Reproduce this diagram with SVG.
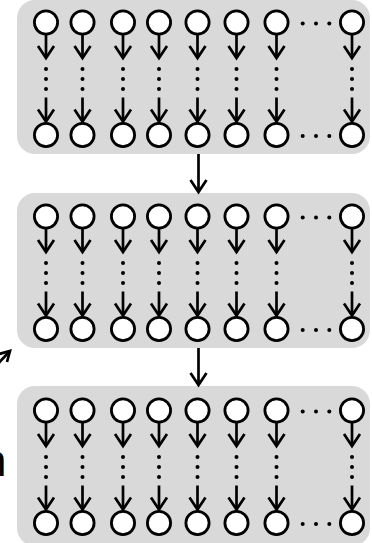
<svg xmlns="http://www.w3.org/2000/svg" xmlns:xlink="http://www.w3.org/1999/xlink" width="372" height="543" viewBox="0 0 372 543">
  <style>
    .panel { fill: #d9d9d9; stroke: none; }
    .node { fill: #ffffff; stroke: #000000; stroke-width: 2.8; }
    .edge { fill: none; stroke: #000000; stroke-width: 2.7; stroke-linecap: butt; stroke-linejoin: miter; }
    .dot { fill: #000000; }
    .label { font-family: "Liberation Sans", Arial, sans-serif; font-size: 44px; fill: #000000; }
  </style>
  <defs>
    <!-- one chain: first node, arrow, vertical ellipsis, arrow, last node -->
    <g id="chain">
      <circle class="node" cx="0" cy="22.5" r="11.6"/>
      <line class="edge" x1="0" y1="34" x2="0" y2="57"/>
      <polyline class="edge" points="-8,46 0,58 8,46"/>
      <circle class="dot" cx="0" cy="69" r="2"/>
      <circle class="dot" cx="0" cy="79" r="2"/>
      <circle class="dot" cx="0" cy="89" r="2"/>
      <line class="edge" x1="0" y1="97.5" x2="0" y2="120.5"/>
      <polyline class="edge" points="-8,109.5 0,121.5 8,109.5"/>
      <circle class="node" cx="0" cy="135" r="11.6"/>
    </g>
    <!-- horizontal ellipsis between the last two chains -->
    <g id="hdots">
      <circle class="dot" cx="302.7" cy="0" r="2"/>
      <circle class="dot" cx="316" cy="0" r="2"/>
      <circle class="dot" cx="329.3" cy="0" r="2"/>
    </g>
    <!-- a block of eight chains -->
    <g id="block">
      <use xlink:href="#chain" x="46"/>
      <use xlink:href="#chain" x="82.5"/>
      <use xlink:href="#chain" x="123"/>
      <use xlink:href="#chain" x="159"/>
      <use xlink:href="#chain" x="197.5"/>
      <use xlink:href="#chain" x="236.5"/>
      <use xlink:href="#chain" x="276.5"/>
      <use xlink:href="#chain" x="352"/>
      <use xlink:href="#hdots" y="23.5"/>
      <use xlink:href="#hdots" y="136"/>
    </g>
  </defs>

  <g id="block-1">
    <rect class="panel" x="17" y="0" width="353" height="154" rx="18" ry="18"/>
    <use xlink:href="#block" y="0"/>
  </g>

  <g id="block-2">
    <rect class="panel" x="17" y="193" width="353" height="155" rx="18" ry="18"/>
    <use xlink:href="#block" y="194"/>
  </g>

  <g id="block-3">
    <rect class="panel" x="17" y="386" width="353" height="160" rx="18" ry="18"/>
    <use xlink:href="#block" y="388"/>
  </g>

  <g id="connectors">
    <line class="edge" x1="198.5" y1="154" x2="198.5" y2="191"/>
    <polyline class="edge" points="190.5,180 198.5,192 206.5,180"/>
    <line class="edge" x1="198.5" y1="348" x2="198.5" y2="384"/>
    <polyline class="edge" points="190.5,373 198.5,385 206.5,373"/>
    <!-- incoming arrow from the left edge -->
    <line class="edge" x1="-8" y1="370" x2="10" y2="351"/>
    <polyline class="edge" points="-1,354 10,351 7,362"/>
  </g>

  <g id="side-label">
    <text class="label" x="-18" y="476">n</text>
  </g>
</svg>
